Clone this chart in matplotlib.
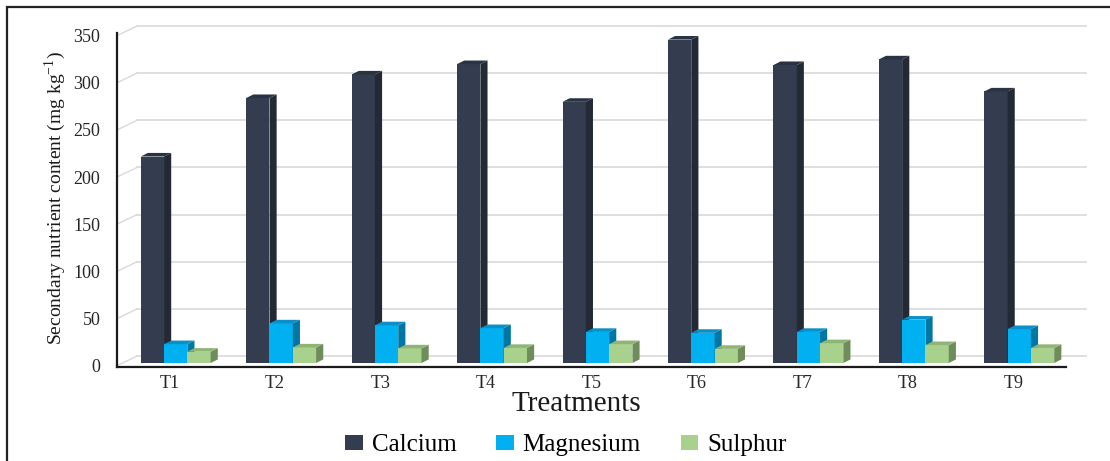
import matplotlib
matplotlib.use("Agg")
import matplotlib.pyplot as plt
from matplotlib.patches import Polygon, Rectangle
from matplotlib.transforms import ScaledTranslation

# Secondary nutrient content by treatment (mg kg-1)
treatments = ["T1", "T2", "T3", "T4", "T5", "T6", "T7", "T8", "T9"]
calcium = [219, 281, 306, 317, 277, 343, 316, 322, 288]
magnesium = [20, 42, 40, 37, 33, 32, 33, 46, 36]
sulphur = [12, 16.5, 15.5, 16, 20, 15, 21, 19, 16]
y_ticks = [0, 50, 100, 150, 200, 250, 300, 350]

series = [
    ("Calcium", calcium, "#333d4f", "#232a35", "#2a3342"),
    ("Magnesium", magnesium, "#00b0f0", "#0076a3", "#0a8fc8"),
    ("Sulphur", sulphur, "#a9d18e", "#6f8c5b", "#8fb475"),
]

SERIF = ["Liberation Serif", "DejaVu Serif"]

W, H = 1110, 461
fig = plt.figure(figsize=(W / 100, H / 100), dpi=100)
ax = fig.add_axes([117 / W, 1 - 366.5 / H, (1066 - 117) / W, (366.5 - 33) / H])
ax.set_xlim(-0.5, len(treatments) - 0.5)
ax.set_ylim(-3.7, 347.0)

# depth of the floor/back wall and of each bar, in data units
wall_dx = 0.19
bar_dx, bar_dy = 0.068, 3.8
bar_w = 0.221
offsets = [-0.275, -0.054, 0.167]

# back wall grid lines with the diagonal on the side wall
x0, x1 = -0.5, len(treatments) - 0.5
for v in y_ticks:
    ax.plot([x0, x0 + wall_dx], [v - 2.8, v + 7.4], color="#d9d9d9",
            lw=1.0, clip_on=False, zorder=0.5)
    ax.plot([x0 + wall_dx, x1 + wall_dx], [v + 7.4, v + 7.4], color="#d9d9d9",
            lw=1.2, clip_on=False, zorder=0.5)

# bars with side and top faces, drawn left to right
for i in range(len(treatments)):
    for (name, vals, front, side, top), off in zip(series, offsets):
        v = vals[i]
        xl = i + off
        xr = xl + bar_w
        ax.bar(xl, v, width=bar_w, align="edge", color=front, lw=0,
               zorder=2, label=name if i == 0 else None)
        ax.add_patch(Polygon([(xr, 0), (xr, v), (xr + bar_dx, v + bar_dy),
                              (xr + bar_dx, bar_dy)], closed=True,
                             facecolor=side, lw=0, zorder=2, clip_on=False))
        ax.add_patch(Polygon([(xl, v), (xr, v), (xr + bar_dx, v + bar_dy),
                              (xl + bar_dx, v + bar_dy)], closed=True,
                             facecolor=top, lw=0, zorder=2, clip_on=False))

for s in ["top", "right"]:
    ax.spines[s].set_visible(False)
for s in ["left", "bottom"]:
    ax.spines[s].set_color("#1a1a1a")
    ax.spines[s].set_linewidth(1.6)

ax.set_yticks(y_ticks)
ax.set_yticklabels([str(t) for t in y_ticks], family=SERIF, fontsize=13,
                   color="#262626")
ax.set_xticks(range(len(treatments)))
ax.set_xticklabels(treatments, family=SERIF, fontsize=13, color="#262626")
ax.tick_params(axis="y", length=0, pad=12)
ax.tick_params(axis="x", length=0, pad=6)
shift = ScaledTranslation(0, -2.7 / 100, fig.dpi_scale_trans)
for lab in ax.get_yticklabels():
    lab.set_transform(lab.get_transform() + shift)

fig.text(55 / W, 1 - 198 / H,
         "Secondary nutrient content (mg kg$^{\\mathregular{-1}}$)",
         rotation=90, ha="center", va="center", family=SERIF, fontsize=14,
         color="#1a1a1a")
fig.text(576 / W, 1 - 404 / H, "Treatments", ha="center", va="center",
         family=SERIF, fontsize=21, color="#1a1a1a")

leg = fig.legend(loc="center", bbox_to_anchor=(566 / W, 1 - 445 / H), ncol=3,
                 frameon=False, prop={"family": SERIF, "size": 18},
                 handlelength=0.7, handleheight=0.55, handletextpad=0.35,
                 columnspacing=1.6)

# outer frame around the figure
fig.patches.append(Rectangle((7 / W, -0.1), 1.2, 1 - 7 / H + 0.1,
                             transform=fig.transFigure, fill=False,
                             edgecolor="#222222", lw=1.6))

fig.savefig("out.png", dpi=100)
